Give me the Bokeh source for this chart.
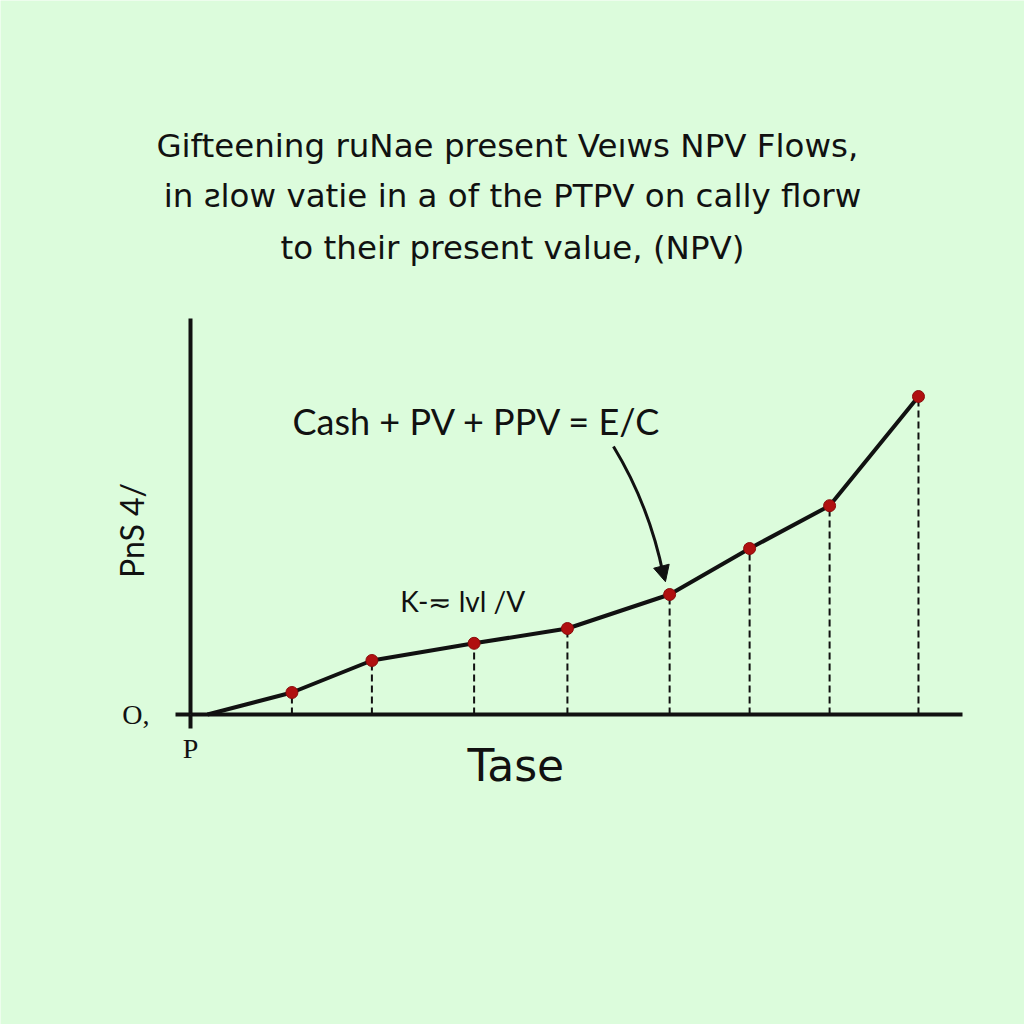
from bokeh.plotting import figure
from bokeh.models import Label, Arrow, NormalHead, FixedTicker, ColumnDataSource
from bokeh.embed import file_html
from bokeh.resources import INLINE
from math import pi

# ---- data ----
time = [0, 0.95, 1.85, 3.0, 4.05, 5.2, 6.1, 7.0, 8.0]
npv = [0, 0.55, 1.35, 1.78, 2.15, 3.0, 4.15, 5.22, 7.95]
title_lines = [
    "Gifteening ruNae present  Veıws NPV Flows,",
    "in ƨlow vatie in a of the PTPV on cally florw",
    "to their present value, (NPV)",
]
eq_text = "Cash + PV + PPV = E/C"
mid_text = "K-≂ lvl /V"
x_label = "Tase"
y_label = "PnS 4/"
x_tick_label = "P"
y_tick_label = "O,"

BG = "#dcfcdc"
INK = "#111111"
FONT = "Lato"
WIDE = "DejaVu Sans"

# axis extents (data units)
ax_x0, ax_x1 = -0.191, 8.495
ax_y0, ax_y1 = 0, 9.9

p = figure(width=1024, height=1024, x_range=(-2.329, 9.193), y_range=(-7.75, 17.85),
           output_backend="svg", toolbar_location=None, title=None,
           min_border=0)
p.background_fill_color = BG
p.border_fill_color = BG
p.outline_line_color = None
p.grid.visible = False

# axes
p.xaxis.fixed_location = 0
p.yaxis.fixed_location = ax_x0
p.xaxis.bounds = (ax_x0, ax_x1)
p.yaxis.bounds = (ax_y0, ax_y1)
p.xaxis.ticker = FixedTicker(ticks=[ax_x0])
p.xaxis.major_label_overrides = {ax_x0: x_tick_label}
p.yaxis.ticker = FixedTicker(ticks=[0])
p.yaxis.major_label_overrides = {0: y_tick_label}
for ax in (p.xaxis, p.yaxis):
    ax.axis_line_width = 4
    ax.axis_line_color = INK
    ax.major_tick_line_width = 4
    ax.major_tick_line_color = INK
    ax.major_tick_in = 0
    ax.minor_tick_line_color = None
    ax.major_label_text_font = "Liberation Serif"
    ax.major_label_text_font_size = "28px"
    ax.major_label_text_color = INK
p.xaxis.major_tick_out = 14
p.xaxis.major_label_standoff = 4
p.yaxis.major_tick_out = 15
p.yaxis.major_label_standoff = 26
p.yaxis.major_label_orientation = "horizontal"

src = ColumnDataSource(dict(t=time, v=npv, z=[0] * len(time)))
pts = ColumnDataSource(dict(t=time[1:], v=npv[1:], z=[0] * (len(time) - 1)))

p.segment(x0="t", y0="z", x1="t", y1="v", source=pts, line_color=INK,
          line_width=2, line_dash="7 4")
p.line(x="t", y="v", source=src, line_color=INK, line_width=4)
p.scatter(x="t", y="v", source=pts, size=12, fill_color="#b01010",
          line_color="#8a0c0c", line_width=1)

# titles
title_y = [14.225, 12.975, 11.675]
for txt, yy in zip(title_lines, title_y):
    p.add_layout(Label(x=3.432, y=yy, text=txt, text_align="center",
                       text_baseline="middle", text_font=WIDE,
                       text_font_size="32.5px", text_color=INK))

p.add_layout(Label(x=0.956, y=7.35, text=eq_text, text_align="left",
                   text_baseline="middle", text_font=FONT,
                   text_font_size="36px", text_color=INK))
p.add_layout(Label(x=2.17, y=2.85, text=mid_text, text_align="left",
                   text_baseline="middle", text_font=FONT,
                   text_font_size="28px", text_color=INK))
p.add_layout(Label(x=3.47, y=-1.28, text=x_label, text_align="center",
                   text_baseline="middle", text_font=WIDE,
                   text_font_size="44px", text_color=INK))
p.add_layout(Label(x=-0.86, y=4.6, text=y_label, text_align="center",
                   text_baseline="middle", text_font=FONT, angle=pi / 2,
                   text_font_size="32px", text_color=INK))

# curved arrow
p.quadratic(x0=[4.568], y0=[6.70], x1=[5.131], y1=[3.475], cx=[4.973], cy=[5.225],
            line_color=INK, line_width=3)
p.add_layout(Arrow(x_start=5.118, y_start=3.62, x_end=5.153, y_end=3.32,
                   line_color=INK, line_width=3,
                   end=NormalHead(size=16, fill_color=INK, line_color=INK)))

open("out.html", "w").write(file_html(p, INLINE))
